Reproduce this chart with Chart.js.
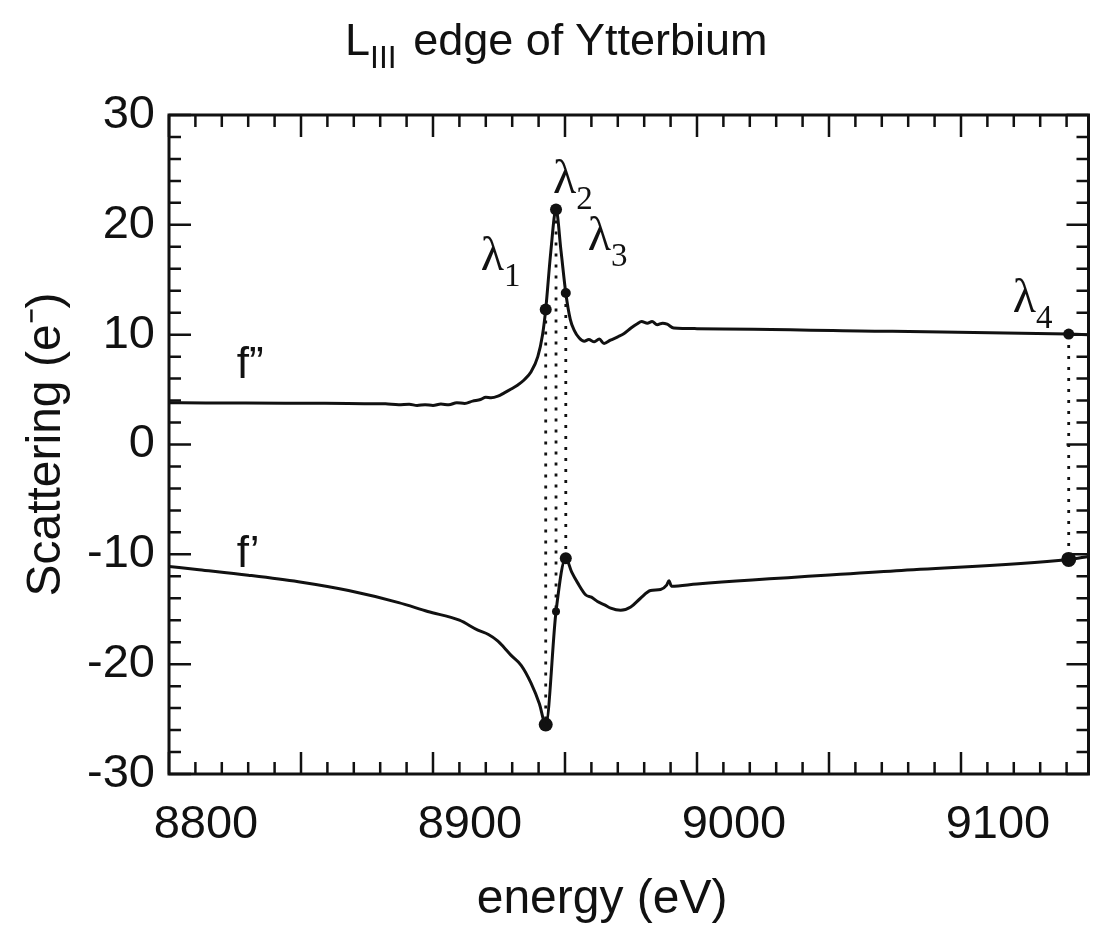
<!DOCTYPE html>
<html>
<head>
<meta charset="utf-8">
<script src="https://cdn.jsdelivr.net/npm/chart.js@4.4.0/dist/chart.umd.min.js"></script>
<style>
  html, body { margin: 0; padding: 0; background: #fff; }
  #wrap { position: relative; width: 1096px; height: 925px; }
  #title { position: absolute; left: 345px; top: 17px; font: 45px "Liberation Sans", Arial, sans-serif; line-height: 45px; color: #111; white-space: nowrap; }
  #title span { font-size: 32px; position: relative; top: 13px; margin-right: 4px; }
</style>
</head>
<body>
<div id="wrap">
  <canvas id="chart" width="1096" height="925"></canvas>
  <div id="title">L<span>III</span> edge of Ytterbium</div>
</div>
<script>
// f'' (absorption) curve, energy in eV
const fppEnergy = [8786, 8800, 8815, 8830, 8845, 8860, 8868, 8873, 8877, 8880, 8883, 8886, 8889, 8892, 8895, 8898,
  8901, 8904, 8906, 8908, 8910.6, 8913, 8915.6, 8918, 8920.6, 8923.1, 8925.7, 8927.5, 8928.7, 8930.6, 8932.6,
  8934.5, 8936.3, 8938, 8939.5, 8941.4, 8943.3, 8945, 8947.1, 8949, 8950.8, 8953.2, 8956, 8958.4, 8961, 8963.4,
  8965, 8967.2, 8969, 8970.9, 8973, 8974.7, 8977.2, 8986, 9060, 9126.8, 9134.3];
const fppValue = [3.80, 3.78, 3.77, 3.76, 3.75, 3.72, 3.70, 3.62, 3.66, 3.55, 3.63, 3.56, 3.68, 3.62, 3.80, 3.74,
  3.95, 4.10, 4.30, 4.25, 4.40, 4.70, 5.05, 5.40, 5.90, 6.60, 8.00, 10.0, 12.3, 17.5, 21.4,
  17.6, 13.8, 11.4, 10.4, 9.7, 9.4, 9.55, 9.35, 9.6, 9.2, 9.5, 9.8, 10.1, 10.6, 11.0,
  11.2, 11.05, 11.2, 10.9, 11.05, 10.95, 10.6, 10.55, 10.3, 10.05, 10.0];

// f' (dispersion) curve
const fpEnergy = [8786, 8797.4, 8816, 8835, 8854, 8873, 8884, 8896, 8903, 8907, 8910.6, 8913, 8915.6, 8919.4, 8923.1,
  8926.3, 8928.7, 8932.6, 8936.3, 8938.5, 8940.8, 8943.9, 8946, 8948.3, 8951, 8953.3, 8957.1, 8960.9, 8964.6,
  8968.4, 8972.2, 8974.5, 8975.4, 8976.3, 8986, 9061.5, 9126.8, 9134.3];
const fpValue = [-11.1, -11.4, -11.9, -12.5, -13.3, -14.4, -15.2, -16.0, -16.9, -17.3, -17.9, -18.5, -19.2, -20.1, -21.7,
  -23.6, -25.5, -15.2, -10.35, -11.6, -12.6, -13.7, -13.9, -14.3, -14.6, -14.9, -15.1, -14.8, -14.0,
  -13.3, -13.2, -12.8, -12.4, -12.9, -12.7, -11.5, -10.46, -10.2];

// the four chosen wavelengths
const lambdaNames = ['1', '2', '3', '4'];
const lambdaEnergy = [8928.7, 8932.6, 8936.3, 9126.8];
const lambdaFpp = [12.3, 21.4, 13.8, 10.05];
const lambdaFp = [-25.5, -15.2, -10.35, -10.46];

const xTickValues = [8800, 8900, 9000, 9100];
const yTickValues = [-30, -20, -10, 0, 10, 20, 30];

const ink = '#111';
const sans = '"Liberation Sans", Arial, sans-serif';
const serif = '"Liberation Serif", "Times New Roman", serif';

// label placement in px, relative to the f'' marker
const lambdaOffset = [[-65, -39], [-3, -16], [22, -43], [-56, -22]];
const markerSizeFpp = [6, 6, 5, 5.5];
const markerSizeFp = [7, 4, 6, 7.5];

const pts = (xs, ys) => xs.map((x, i) => ({ x: x, y: ys[i] }));

const datasets = [
  { data: pts(fppEnergy, fppValue), showLine: true, borderColor: ink, borderWidth: 3, pointRadius: 0, cubicInterpolationMode: 'monotone' },
  { data: pts(fpEnergy, fpValue), showLine: true, borderColor: ink, borderWidth: 3, pointRadius: 0, cubicInterpolationMode: 'monotone' }
];
lambdaEnergy.forEach((e, i) => {
  datasets.push({
    data: [{ x: e, y: lambdaFpp[i] }, { x: e, y: lambdaFp[i] }],
    showLine: true, borderColor: ink, borderWidth: 2.8, borderDash: [3, 8], pointRadius: 0
  });
});
datasets.push({
  data: pts(lambdaEnergy, lambdaFpp).concat(pts(lambdaEnergy, lambdaFp)),
  showLine: false, backgroundColor: ink, borderWidth: 0,
  pointRadius: markerSizeFpp.concat(markerSizeFp)
});

// box with inward ticks on all four sides
const frameTicks = {
  id: 'frameTicks',
  beforeDatasetsDraw(chart) {
    const { ctx, chartArea: a, scales: { x, y } } = chart;
    ctx.save();
    ctx.strokeStyle = ink;
    ctx.lineWidth = 3;
    ctx.strokeRect(a.left, a.top, a.right - a.left, a.bottom - a.top);
    ctx.lineWidth = 2.5;
    ctx.beginPath();
    for (let i = 0; x.min + i * 10 <= x.max; i++) {
      const px = x.getPixelForValue(x.min + i * 10);
      const len = i % 5 === 0 ? 22 : 12;
      ctx.moveTo(px, a.bottom); ctx.lineTo(px, a.bottom - len);
      ctx.moveTo(px, a.top); ctx.lineTo(px, a.top + len);
    }
    for (let v = y.min; v <= y.max; v += 2) {
      const py = y.getPixelForValue(v);
      const len = v % 10 === 0 ? 22 : 12;
      ctx.moveTo(a.left, py); ctx.lineTo(a.left + len, py);
      ctx.moveTo(a.right, py); ctx.lineTo(a.right - len, py);
    }
    ctx.stroke();
    ctx.restore();
  }
};

// lambda labels and curve names
const curveLabels = {
  id: 'curveLabels',
  afterDatasetsDraw(chart) {
    const { ctx, scales: { x, y } } = chart;
    ctx.save();
    ctx.fillStyle = ink;
    ctx.textBaseline = 'alphabetic';
    lambdaEnergy.forEach((e, i) => {
      const px = x.getPixelForValue(e) + lambdaOffset[i][0];
      const py = y.getPixelForValue(lambdaFpp[i]) + lambdaOffset[i][1];
      ctx.font = '48px ' + serif;
      ctx.fillText('\u03BB', px, py);
      const w = ctx.measureText('\u03BB').width;
      ctx.font = '33px ' + serif;
      ctx.fillText(lambdaNames[i], px + w, py + 16);
    });
    ctx.font = '44px ' + sans;
    ctx.fillText('f\u201D', x.getPixelForValue(8811.7), y.getPixelForValue(fppValue[1]) - 25);
    ctx.fillText('f\u2019', x.getPixelForValue(8811.7), y.getPixelForValue(fpValue[2]) - 8);
    ctx.restore();
  }
};

new Chart(document.getElementById('chart'), {
  type: 'scatter',
  data: { datasets: datasets },
  plugins: [frameTicks, curveLabels],
  options: {
    responsive: false,
    animation: false,
    layout: { padding: { top: 115, right: 3, left: 0, bottom: 0 } },
    plugins: { legend: { display: false }, tooltip: { enabled: false } },
    scales: {
      x: {
        type: 'linear', min: 8786, max: 9134.3,
        afterBuildTicks: s => { s.ticks = xTickValues.map(v => ({ value: v })); },
        afterFit: s => { s.height = 151; },
        grid: { display: false, drawTicks: false },
        border: { display: false },
        ticks: { color: ink, font: { family: sans, size: 47 }, padding: 23, maxRotation: 0, autoSkip: false, callback: v => String(v) },
        // trailing spaces pull the centred title a little to the left
        title: { display: true, text: 'energy (eV)\u00A0\u00A0\u00A0\u00A0', color: ink, font: { family: sans, size: 48, lineHeight: 1 }, padding: { top: 0, bottom: 1 } }
      },
      y: {
        type: 'linear', min: -30, max: 30,
        afterBuildTicks: s => { s.ticks = yTickValues.map(v => ({ value: v })); },
        afterFit: s => { s.width = 169; },
        grid: { display: false, drawTicks: false },
        border: { display: false },
        ticks: { color: ink, font: { family: sans, size: 47 }, padding: 14, autoSkip: false, callback: v => String(v) },
        title: { display: true, text: 'Scattering (e\u207B)', color: ink, font: { family: sans, size: 48, lineHeight: 1 }, padding: { top: 23, bottom: 0 } }
      }
    }
  }
});
</script>
</body>
</html>
